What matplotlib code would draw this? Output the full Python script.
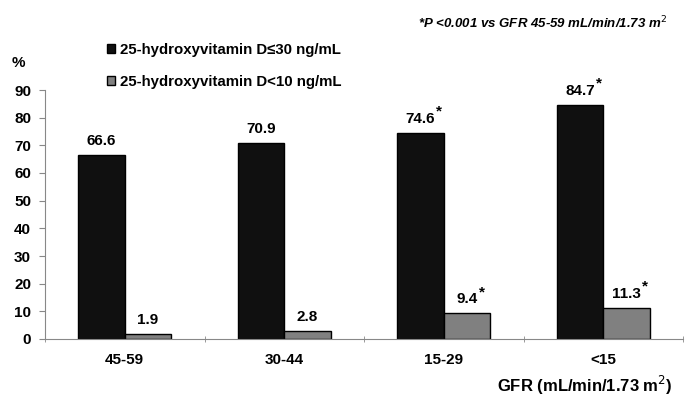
import matplotlib.pyplot as plt
import numpy as np

plt.rcParams['font.family'] = ['Liberation Sans', 'DejaVu Sans']

groups = ['45-59', '30-44', '15-29', '<15']
d30 = [66.6, 70.9, 74.6, 84.7]
d10 = [1.9, 2.8, 9.4, 11.3]
star30 = [False, False, True, True]
star10 = [False, False, True, True]
legend_labels = ['25-hydroxyvitamin D\u226430 ng/mL', '25-hydroxyvitamin D<10 ng/mL']

fig = plt.figure(figsize=(6.85, 4.04), dpi=100)
ax = fig.add_axes([45/685, 1-339/404, 638/685, 249/404])

x = np.arange(len(groups))
w = 0.29
b1 = ax.bar(x - w/2, d30, w, color='#101010', edgecolor='black', linewidth=1)
b2 = ax.bar(x + w/2, d10, w, color='#808080', edgecolor='black', linewidth=1)

def lab(bars, vals, stars):
    for r, v, s in zip(bars, vals, stars):
        cx = r.get_x() + r.get_width()/2
        t = ax.annotate(f'{v:.1f}', (cx, v), xytext=(0, 5), textcoords='offset points',
                        ha='center', va='bottom', fontsize=11, fontweight='bold')
        if s:
            ax.annotate('*', xy=(1, 1), xycoords=t, xytext=(1, 0), textcoords='offset pixels',
                        ha='left', va='center', fontsize=11, fontweight='bold')

lab(b1, d30, star30)
lab(b2, d10, star10)

ax.set_xlim(-0.5, len(groups) - 0.5)
ax.set_ylim(0, 90)
ax.set_yticks(range(0, 91, 10))
ax.set_xticks(x)
ax.set_xticklabels(groups, fontsize=11, fontweight='bold')
ax.set_xticks(np.arange(-0.5, len(groups)), minor=True)
ax.tick_params(axis='x', which='major', length=0, pad=10)
ax.tick_params(axis='x', which='minor', length=4, color='#888888', direction='inout')
ax.tick_params(axis='y', length=4, color='#888888', pad=6, labelsize=11)
for t in ax.get_yticklabels():
    t.set_fontweight('bold')
for s in ['top', 'right']:
    ax.spines[s].set_visible(False)
for s in ['left', 'bottom']:
    ax.spines[s].set_color('#888888')

leg = fig.legend([b1, b2], legend_labels, loc='upper left', bbox_to_anchor=(107/685, 1-43/404),
                 frameon=False, borderpad=0, borderaxespad=0,
                 handlelength=0.55, handleheight=0.55, handletextpad=0.3,
                 labelspacing=1.2, prop={'size': 10.8, 'weight': 'bold'})

fig.text(18/685, 1-63/404, '%', fontsize=11, fontweight='bold', ha='center', va='center')
fig.text(667/685, 1-23/404, '*P <0.001 vs GFR 45-59 mL/min/1.73 m$^2$', fontsize=9.5,
         fontweight='bold', style='italic', ha='right', va='center')
fig.text(673/685, 1-385/404, 'GFR (mL/min/1.73 m$^2$)', fontsize=12, fontweight='bold',
         ha='right', va='center')

fig.savefig('out.png', dpi=100)
